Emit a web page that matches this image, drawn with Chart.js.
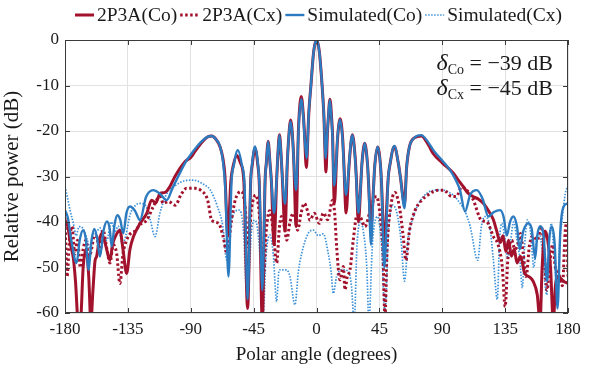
<!DOCTYPE html>
<html>
<head>
<meta charset="utf-8">
<script src="https://cdn.jsdelivr.net/npm/chart.js@4.4.1/dist/chart.umd.min.js"></script>
<style>
  body { margin: 0; background: #fff; }
  canvas { display: block; }
</style>
</head>
<body>
<canvas id="radiation_canvas" width="597" height="367"></canvas>
<script>
// series names (legend order)
const seriesNames = ['2P3A(Co)', '2P3A(Cx)', 'Simulated(Co)', 'Simulated(Cx)'];

// tick labels
const angleTicks = [-180, -135, -90, -45, 0, 45, 90, 135, 180];
const powerTicks = [-60, -50, -40, -30, -20, -10, 0];

// measured co-pol (2P3A Co)
const measCoAngle = [-180,-178,-176,-174,-172.5,-170.5,-169,-167,-165,-163,-161.5,-160,-158.5,-157.4,-155.5,-153.8,-151,-147.8,-146,-144,-140.7,-138.5,-135.9,-133.5,-131,-126.3,-121.5,-118,-115,-112,-108.4,-104.9,-101.3,-94,-90,-87,-82,-78,-75,-72,-69,-67,-65.5,-63.5,-61.3,-59.5,-57,-54.5,-52,-49.3,-47.1,-46,-44,-42,-40.9,-38.8,-36.8,-35.9,-34.6,-33.3,-32.3,-30.4,-28.5,-27.7,-26.5,-25.3,-24.5,-22.5,-20.9,-20.1,-18.5,-16.9,-16.2,-14.6,-13.1,-12.5,-10.9,-9.3,-8.6,-7.3,-5.5,-4,-2,0,2,4,5.2,6.8,7.8,8.4,9.6,10.9,11.5,12.8,14.3,15,16.9,18.8,19.5,21.2,23,23.8,25.7,27.6,28.4,30,31.8,32.5,34.5,36.5,37.2,39,40.9,41.6,43.8,45.9,46.6,48.5,51.4,52.5,55.7,58.8,60,63,64.5,66.5,70,75,80,83.6,90,98,102,105,108,112,116,119.4,123,126.6,129,131.5,133.5,135.5,137.5,139.5,141.5,143.5,146,149,152,155,158,160,161.5,163.5,165.5,167.5,169.5,171,173,176.7,180];
const measCoPower = [-39.6,-41,-45,-48,-53,-62,-62,-50,-46,-52,-62,-55,-48.5,-47.6,-44,-42.5,-45,-48.4,-45,-43.2,-41.8,-46,-51.3,-46,-43.2,-40.3,-38.1,-35.2,-35.8,-33.7,-33.5,-32.2,-30,-26.7,-25.8,-24.5,-22.5,-21.3,-21.1,-21.8,-23.5,-26,-30,-43,-31,-27.5,-25.4,-27,-31,-59,-31,-27.5,-23.8,-27.5,-32,-62,-31,-27,-22.3,-27,-31,-45,-30.5,-25.5,-20.8,-25.5,-30,-42,-27,-22.5,-17.6,-22.5,-27,-41,-21.5,-17,-12.4,-17,-20.5,-28,-16,-10,-2.5,0,-2.5,-10,-16,-29,-20.5,-17.5,-13,-17.5,-21,-36,-26.5,-22,-17.3,-22,-26.5,-38,-29,-25.5,-20.8,-25.5,-29.5,-40,-31,-27.3,-22.7,-27.3,-31,-41,-32,-28,-23.5,-28,-32,-45,-30,-27.5,-23.4,-27.5,-30,-36,-28,-23.5,-21.5,-21.1,-23,-25,-27,-29.3,-31,-32.2,-33.5,-34.4,-35,-35.9,-37.5,-39.5,-42,-44.5,-43,-46.5,-44,-47.5,-46,-49,-47.5,-51.3,-52,-53,-56,-62,-50,-42,-44,-50,-62,-54,-52,-53,-53.5];

// measured cross-pol (2P3A Cx)
const measCxAngle = [-180,-178.5,-177,-175,-173,-171,-169,-167,-165,-163,-161,-159,-157.4,-155,-152.8,-150,-147.8,-145.5,-143,-140.7,-138.5,-135.9,-133,-130,-126,-121.5,-116.8,-112,-109.7,-106,-101,-97,-93,-87,-83,-78,-75,-70,-67,-64,-61,-58,-53.6,-51,-49,-46.5,-43.5,-41,-38,-36,-33.5,-31,-28.5,-26.5,-25,-23,-21.3,-19,-16.6,-15,-13.5,-11,-8.7,-6.5,-4.7,-1.6,2,5,8,11.5,13,14.4,16.8,19.2,20.4,22,24,26.3,29,31.5,34.7,38,41,43,45.5,47.5,49,50.5,52.5,56.2,59.5,62,64,66.5,70.5,75.3,80,83.6,87.3,91,96.8,100,104,107.5,112,118,122,126.6,130,133,135,137,139.7,142,144,146,148,150,152.5,155,158,161,163,165,167,169,171,173,176,178,179,180];
const measCxPower = [-39,-52,-45,-41,-47,-44,-50,-46,-44,-48,-46,-43,-43.2,-47,-41.8,-46,-49,-45,-47,-53.5,-47,-44,-42.5,-42,-40.5,-39.6,-36.6,-34.4,-35.9,-35.5,-36.3,-34,-32.6,-32.6,-33,-35.1,-39.6,-40.3,-43,-46.9,-40,-35,-33.3,-37,-45.4,-37,-34.1,-38,-52,-42,-37.5,-42,-49,-41,-38.8,-41,-44,-40,-38.1,-39.5,-41.8,-38,-35.9,-37.5,-39.6,-38.1,-40.3,-38,-39.5,-35.2,-38,-45.4,-52.7,-49.8,-54.9,-52,-50.5,-44,-38.5,-39,-41,-38,-35,-34.4,-38.5,-46,-61,-46,-38,-33.5,-37,-43,-48.4,-42,-37.5,-35.2,-34,-33.3,-33,-33,-34.4,-34.4,-32.3,-33,-35,-39.6,-40,-43.2,-45,-50,-58.6,-48,-44,-46,-45,-42.5,-47,-52,-45,-43,-44,-41,-47,-55,-49,-45,-50,-51,-54,-42,-40.3,-52];

// simulated co-pol
const simCoAngle = [-180,-178,-175.5,-171.7,-169.5,-167,-165,-163.3,-161,-159,-157,-155,-152.5,-150,-148,-146.6,-144.5,-142.6,-140.5,-138.3,-136,-133.5,-130,-126.3,-122,-116.8,-112,-107.2,-103,-99,-94,-89.3,-82.2,-78,-75,-72,-69,-67,-65.2,-63,-60.8,-59.2,-56.3,-53.4,-51.5,-49.3,-47.1,-46,-44,-42,-40.9,-38.8,-36.8,-35.9,-34.6,-33.3,-32.3,-30.4,-28.5,-27.7,-26.5,-25.3,-24.5,-22.5,-20.9,-20.1,-18.5,-16.9,-16.2,-14.6,-13.1,-12.5,-10.9,-9.3,-8.6,-7.1,-5.5,-4,-2,0,2,4,5.2,6.6,7.7,8.3,9.5,10.8,11.4,12.6,14.2,14.9,16.8,18.7,19.4,21.1,22.9,23.7,25.6,27.5,28.3,30,31.8,32.5,34.5,36.5,37.2,39,40.9,41.6,43.8,45.9,46.6,48.5,51.4,52.5,55.7,58.8,60,63,64.5,66.5,70,75,80,83.6,90,95.6,100,102.7,106.3,110,114.7,119,123,127,131.4,134,136.2,138.5,140.9,143.5,145.5,148,151.6,154,156.5,158,160,162.5,165,166.5,168.4,170.5,172.5,174.5,176.7,180];
const simCoPower = [-37.4,-39,-44,-49,-44,-41.8,-44,-50.5,-44,-41.5,-43.5,-47.6,-42,-39.9,-41.5,-45.4,-40.5,-38.5,-39.5,-42.5,-38,-36.6,-37.5,-39.6,-34.5,-33,-33.8,-35.2,-32.5,-30,-27,-24.9,-22.3,-21.3,-21.1,-21.8,-23.4,-26.5,-33,-52,-31,-27.5,-24.2,-27.5,-32,-57,-31,-27,-23.4,-27,-31.5,-55,-31,-27,-22.3,-27,-31,-38,-30.5,-25.5,-20.9,-25.5,-30,-36,-27,-22.5,-17.9,-22.5,-27,-33,-22,-17.5,-13,-17.5,-21,-26,-16,-10,-2.5,0,-2.5,-10,-16,-26,-20.5,-17.7,-13.2,-17.7,-21,-32,-26.5,-22,-17.5,-22,-26.5,-34,-29,-25.5,-20.9,-25.5,-29.5,-38,-31,-27.3,-22.7,-27.3,-31,-45,-32,-28,-23.5,-28,-32,-50,-30,-27.5,-23.3,-27.5,-30,-37,-28,-23.5,-21.5,-20.9,-22.5,-24.2,-26.5,-28.6,-31,-33,-37.7,-34,-33,-35,-38.8,-37.8,-37.4,-39,-43,-40,-38.8,-41,-46,-42,-40.3,-41.5,-48,-43,-40.9,-43,-53,-44,-41,-45,-59,-42,-36.7,-35.9];

// simulated cross-pol
const simCxAngle = [-180,-178,-176.4,-174,-172,-170,-167,-164,-162,-160,-157,-155,-152,-150,-147,-144,-141.9,-139,-136.5,-133.5,-130,-126.3,-122,-119,-115.6,-112,-107,-101,-95,-88,-82,-76,-71,-67,-64.3,-61,-58,-55.5,-52.5,-49.5,-46.5,-44,-42,-40,-38.5,-36,-33.3,-31,-28.5,-27,-26,-21.5,-19,-15.4,-13,-10.6,-5.9,-2.3,1.3,4.9,8.4,10.5,12,14.4,18,22.8,25,27,29,31.5,33.5,36,37.5,40,43.5,46.5,49,51.5,54.5,57.5,60.5,63,65.5,69.3,73,78.9,85,90.5,95,99,103,106,110,115.4,118,120.6,124,126.5,129.4,131,132.6,135,137,139,141,143.5,145.5,147.3,149,151,153.5,155.5,157.5,159.5,161.5,164.8,166.5,168,170,172.5,174,176,178,180];
const simCxPower = [-32.2,-35,-37.4,-40.3,-43,-41,-41.5,-44,-46,-43,-42,-41.3,-44,-44,-40,-42,-40.9,-45,-43,-38.5,-36.5,-35.9,-36.5,-39.5,-43.2,-38,-33.7,-32,-31,-30.8,-31.5,-33,-36.5,-41,-48.3,-40,-37.6,-37.4,-41,-57.5,-42,-39.6,-42,-50,-62,-47,-42.9,-47,-57.5,-51,-50.5,-50.5,-52,-58.2,-51,-46.9,-42.5,-41.8,-43,-42.6,-46.9,-51,-55.7,-52,-50.5,-50.8,-54,-62,-45,-40,-42,-50,-62,-45,-38.8,-45,-60,-42,-36.3,-38,-44,-53,-44,-38.8,-36,-33.7,-33,-33,-33.5,-34.4,-36,-37.4,-41,-48.4,-41,-38.8,-41,-48,-57,-44,-40.3,-44,-48,-44,-40,-44,-48,-54.5,-45,-39.5,-43,-50,-44,-42.5,-46,-56,-45,-40.3,-47,-55,-45,-39,-33.8,-32];

const RED = '#A3122C';
const BLUE = '#2C7BC0';
const LIGHT_BLUE = '#3B91DA';
const SERIF = '"Liberation Serif", "Times New Roman", serif';

function pts(angles, powers) {
    return angles.map((a, i) => ({x: a, y: powers[i]}));
}

const datasets = [
    {label: seriesNames[0], data: pts(measCoAngle, measCoPower), borderColor: RED, borderWidth: 3, order: 1},
    {label: seriesNames[1], data: pts(measCxAngle, measCxPower), borderColor: RED, borderWidth: 3, borderDash: [2.5, 2.5], order: 2},
    {label: seriesNames[2], data: pts(simCoAngle, simCoPower), borderColor: BLUE, borderWidth: 2.4, order: 0},
    {label: seriesNames[3], data: pts(simCxAngle, simCxPower), borderColor: LIGHT_BLUE, borderWidth: 1.7, borderDash: [1.5, 1.5], order: 3}
];
for (const ds of datasets) {
    ds.pointRadius = 0;
    ds.fill = false;
    ds.cubicInterpolationMode = 'monotone';
    ds.clip = 0;
}

// box, inner ticks, legend and delta text
const decorations = {
    id: 'decorations',
    afterDraw(chart) {
        const ctx = chart.ctx;
        const a = chart.chartArea;
        const xs = chart.scales.x, ys = chart.scales.y;
        ctx.save();
        ctx.strokeStyle = '#3a3a3a';
        ctx.lineWidth = 1;
        ctx.strokeRect(a.left + 0.5, a.top + 0.5, a.right - a.left - 1, a.bottom - a.top - 1);
        ctx.beginPath();
        for (const v of angleTicks) {
            const px = Math.round(xs.getPixelForValue(v)) + 0.5;
            ctx.moveTo(px, a.top); ctx.lineTo(px, a.top + 5);
            ctx.moveTo(px, a.bottom); ctx.lineTo(px, a.bottom - 5);
        }
        for (const v of powerTicks) {
            const py = Math.round(ys.getPixelForValue(v)) + 0.5;
            ctx.moveTo(a.left, py); ctx.lineTo(a.left + 5, py);
            ctx.moveTo(a.right, py); ctx.lineTo(a.right - 5, py);
        }
        ctx.stroke();

        // legend
        ctx.font = '19.5px ' + SERIF;
        ctx.textBaseline = 'middle';
        ctx.fillStyle = '#1a1a1a';
        let x = 75;
        const y = 15;
        chart.data.datasets.forEach(ds => {
            ctx.beginPath();
            ctx.strokeStyle = ds.borderColor;
            ctx.lineWidth = ds.borderWidth;
            ctx.setLineDash(ds.borderDash || []);
            ctx.moveTo(x, y); ctx.lineTo(x + 19, y);
            ctx.stroke();
            ctx.setLineDash([]);
            x += 22;
            ctx.fillText(ds.label, x, y + 1);
            x += ctx.measureText(ds.label).width + 3;
        });

        // delta annotations
        const lines = [['Co', '\u221239 dB'], ['Cx', '\u221245 dB']];
        const right = 553;
        lines.forEach((ln, i) => {
            const by = 70 + i * 25;
            ctx.textBaseline = 'alphabetic';
            ctx.font = '22px ' + SERIF;
            const tail = ' = ' + ln[1];
            const wt = ctx.measureText(tail).width;
            ctx.font = '14px ' + SERIF;
            const ws = ctx.measureText(ln[0]).width;
            ctx.font = 'italic 24px ' + SERIF;
            const wd = ctx.measureText('\u03b4').width;
            let sx = right - wt - ws - wd;
            ctx.fillText('\u03b4', sx, by);
            sx += wd;
            ctx.font = '14px ' + SERIF;
            ctx.fillText(ln[0], sx, by + 4);
            sx += ws;
            ctx.font = '22px ' + SERIF;
            ctx.fillText(tail, sx, by);
        });
        ctx.restore();
    }
};

new Chart(document.getElementById('radiation_canvas'), {
    type: 'line',
    data: {datasets: datasets},
    options: {
        responsive: false,
        animation: false,
        devicePixelRatio: 1,
        layout: {padding: {top: 40, right: 29, left: 0, bottom: 0}},
        plugins: {legend: {display: false}, tooltip: {enabled: false}},
        scales: {
            x: {
                type: 'linear',
                min: -180,
                max: 180,
                afterBuildTicks: s => { s.ticks = angleTicks.map(v => ({value: v})); },
                afterFit: s => { s.height = 54; },
                grid: {color: '#e2e2e2', drawTicks: false},
                border: {display: false},
                ticks: {color: '#1a1a1a', font: {family: SERIF, size: 17}, padding: 6, maxRotation: 0},
                title: {display: true, text: 'Polar angle (degrees)', color: '#1a1a1a', font: {family: SERIF, size: 19}, padding: {top: 0, bottom: 1}}
            },
            y: {
                type: 'linear',
                min: -60,
                max: 0,
                afterBuildTicks: s => { s.ticks = powerTicks.map(v => ({value: v})); },
                afterFit: s => { s.width = 65; },
                grid: {color: '#e2e2e2', drawTicks: false},
                border: {display: false},
                ticks: {color: '#1a1a1a', font: {family: SERIF, size: 17}, padding: 6},
                title: {display: true, text: 'Relative power (dB)', color: '#1a1a1a', font: {family: SERIF, size: 21}, padding: {top: 0, bottom: 0}}
            }
        }
    },
    plugins: [decorations]
});
</script>
</body>
</html>
